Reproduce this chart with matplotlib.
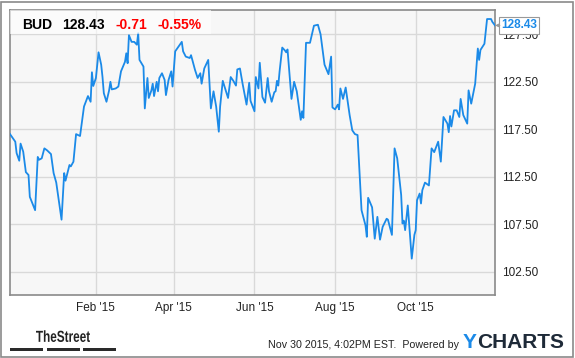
import numpy as np
import pandas as pd
import matplotlib.pyplot as plt
import matplotlib.dates as mdates
from matplotlib.patches import Rectangle, PathPatch
from matplotlib.textpath import TextPath
from matplotlib.font_manager import FontProperties
from matplotlib.transforms import Affine2D

plt.rcParams['font.family'] = ['Liberation Sans', 'DejaVu Sans']

# BUD closing prices (days counted from 2014-11-28)
days = [0, 4, 5, 7, 8, 10, 12, 14, 15, 19, 21, 22, 24, 26, 28, 31, 33, 35, 39, 41,
        42, 45, 46, 48, 50, 53, 56, 59, 61, 62, 63, 65, 67, 69, 70, 71, 73, 75, 76, 77,
        80, 82, 84, 87, 88, 89, 90, 92, 94, 96, 97, 98, 101, 102, 104, 105, 107, 108, 109, 111,
        112, 113, 115, 117, 118, 120, 122, 123, 125, 130, 131, 133, 136, 137, 140, 142, 144, 145, 147, 150,
        152, 154, 156, 158, 159, 161, 165, 167, 169, 171, 172, 174, 176, 179, 181, 182, 185, 186, 188, 189,
        191, 193, 195, 196, 198, 200, 201, 202, 203, 204, 206, 208, 209, 210, 213, 215, 217, 220, 221, 222,
        224, 227, 228, 230, 233, 235, 238, 241, 243, 244, 246, 248, 249, 250, 252, 254, 257, 259, 261, 263,
        266, 269, 270, 271, 274, 276, 278, 280, 282, 285, 286, 289, 291, 293, 296, 297, 298, 299, 301, 302,
        304, 306, 307, 308, 310, 311, 312, 314, 317, 319, 321, 324, 326, 328, 331, 332, 333, 334, 336, 338,
        340, 341, 343, 346, 347, 349, 352, 354, 355, 356, 359, 361, 364, 365, 367]
prices = [117.0, 116.2, 115.0, 114.2, 116.0, 115.15, 113.0, 112.7, 110.4, 109.0, 114.6, 114.3, 114.45, 115.5, 115.3, 114.9, 112.9, 111.9, 108.0, 112.9,
          112.1, 113.75, 113.6, 114.1, 117.0, 116.8, 119.9, 121.0, 120.4, 123.5, 122.06, 122.9, 125.6, 124.3, 123.0, 121.3, 120.4, 121.6, 122.5, 121.7,
          121.8, 122.0, 123.6, 124.6, 125.5, 124.45, 127.4, 126.7, 126.7, 126.4, 127.6, 124.8, 124.1, 119.7, 122.9, 120.8, 121.6, 122.3, 121.0, 122.5,
          121.5, 122.9, 123.4, 122.7, 121.1, 122.7, 123.6, 122.0, 125.7, 126.7, 125.7, 125.15, 125.0, 125.3, 123.75, 122.9, 123.4, 122.3, 123.9, 124.8,
          119.7, 121.5, 119.9, 117.25, 119.9, 122.6, 120.8, 123.0, 122.6, 122.1, 123.8, 123.9, 122.3, 120.1, 122.4, 120.5, 119.4, 123.0, 121.8, 124.5,
          120.9, 120.3, 122.9, 121.5, 120.4, 121.4, 121.5, 122.6, 122.1, 123.6, 126.1, 125.8, 125.6, 125.9, 120.7, 122.5, 121.5, 118.5, 119.4, 118.7,
          126.6, 126.6, 127.2, 128.4, 128.5, 127.5, 124.3, 123.3, 125.15, 119.8, 119.6, 120.1, 119.6, 121.8, 120.7, 121.9, 119.0, 117.4, 117.0, 116.9,
          109.0, 107.4, 106.2, 110.3, 109.3, 106.0, 108.3, 105.9, 107.25, 108.1, 108.0, 106.4, 115.5, 114.45, 110.6, 107.6, 107.9, 106.9, 109.5, 107.6,
          103.9, 106.4, 106.9, 110.05, 110.75, 109.7, 111.1, 111.9, 111.6, 115.5, 115.1, 116.2, 114.1, 118.8, 118.1, 117.2, 118.9, 117.8, 119.5, 119.5,
          118.8, 120.7, 119.0, 118.1, 121.6, 120.2, 122.3, 126.0, 124.8, 125.85, 126.5, 129.1, 129.1, 128.8, 128.43]

ticker = "BUD"
last_price = 128.43
change = "-0.71"
change_pct = "-0.55%"
yticks = [102.5, 107.5, 112.5, 117.5, 122.5, 127.5]
xticks = ["2015-02-01", "2015-04-01", "2015-06-01", "2015-08-01", "2015-10-01"]

dates = pd.Timestamp("2014-11-28") + pd.to_timedelta(days, unit="D")

W, H = 575, 358
fig = plt.figure(figsize=(W / 100, H / 100), dpi=100)
fig.patch.set_facecolor("white")

# outer frame
fig.patches.append(Rectangle((1 / W, 1.5 / H), 572 / W, 355 / H, transform=fig.transFigure,
                             fill=False, edgecolor="#8a8a8a", linewidth=1.2))

ax = fig.add_axes([10 / W, (H - 295) / H, 485 / W, 285 / H])
ax.set_facecolor("#f7f7f7")
line_blue = "#1b8ae8"
ax.plot(dates, prices, color=line_blue, linewidth=1.3, zorder=3)

ax.set_xlim(pd.Timestamp("2014-11-28"), pd.Timestamp("2015-11-30"))
ax.set_ylim(100.08, 130.05)

ax.set_yticks(yticks)
ax.set_yticklabels([f"{v:.2f}" for v in yticks])
ax.yaxis.tick_right()
ax.set_xticks(pd.to_datetime(xticks))
ax.xaxis.set_major_formatter(mdates.DateFormatter("%b '%y"))
ax.tick_params(length=0, labelsize=8.5, colors="#222222")
ax.tick_params(axis="y", pad=5)
ax.tick_params(axis="x", pad=5)
ax.grid(True, color="#d9d9d9", linewidth=1)
ax.set_axisbelow(True)
for s in ax.spines.values():
    s.set_color("#8a8a8a")
    s.set_linewidth(1.2)

# header box with quote
ax.add_patch(Rectangle((0, 1), 201 / 485, -24 / 285, transform=ax.transAxes,
                       facecolor="white", alpha=0.6, edgecolor="none", zorder=4))
hy = 1 - 14.7 / 285
header = [(22, ticker, "#000000"), (62, f"{last_price:.2f}", "#000000"),
          (115, change, "#ff0000"), (157, change_pct, "#ff0000")]
for px, txt, col in header:
    ax.text((px - 10) / 485, hy, txt, transform=ax.transAxes, fontsize=10, fontweight="bold",
            va="center", ha="left", zorder=5, color=col)

# last price tag with a little pointer
ax.annotate(f"{last_price:.2f}", xy=(dates[-1], prices[-1]), xytext=(4.5, 0),
            textcoords="offset points", fontsize=8.5, fontweight="bold", color=line_blue,
            va="center", ha="left", annotation_clip=False, zorder=6,
            bbox=dict(boxstyle="square,pad=0.2", facecolor="white", edgecolor="#999999", linewidth=0.8))
ax.annotate("", xy=(dates[-1], prices[-1]), xytext=(3.6, 0), textcoords="offset points",
            annotation_clip=False, zorder=7,
            arrowprops=dict(arrowstyle="-|>", color="#999999", linewidth=0.6,
                            mutation_scale=5, shrinkA=0, shrinkB=0))

# footer: condensed "TheStreet" logo
tp = TextPath((0, 0), "TheStreet", size=16, prop=FontProperties(family="Liberation Sans", weight="bold"))
ext = tp.get_extents()
sx = 54 / ext.width
logo = PathPatch(tp, transform=Affine2D().translate(-ext.x0, -ext.y0).scale(sx, 1.0).translate(36, H - 342),
                 facecolor="#222222", edgecolor="none")
fig.patches.append(logo)
for x0 in (10, 47, 83):
    fig.patches.append(Rectangle((x0 / W, 1 - 350.5 / H), 33 / W, 3 / H, transform=fig.transFigure,
                                 facecolor="#2a2a2a", edgecolor="none"))
fig.text(459 / W, 1 - 344.5 / H, "Nov 30 2015, 4:02PM EST.  Powered by", fontsize=7.7,
         ha="right", va="center", color="#222222")
t = fig.text(463 / W, 1 - 342 / H, "Y", fontsize=15, fontweight="bold", ha="left",
             va="center", color="#1b8ae8")
fig.canvas.draw()
bb = t.get_window_extent()
fig.text(bb.x1 / W, 1 - 342 / H, "CHARTS", fontsize=15, fontweight="bold", ha="left",
         va="center", color="#1e2a38")

fig.savefig("out.png", dpi=100)
